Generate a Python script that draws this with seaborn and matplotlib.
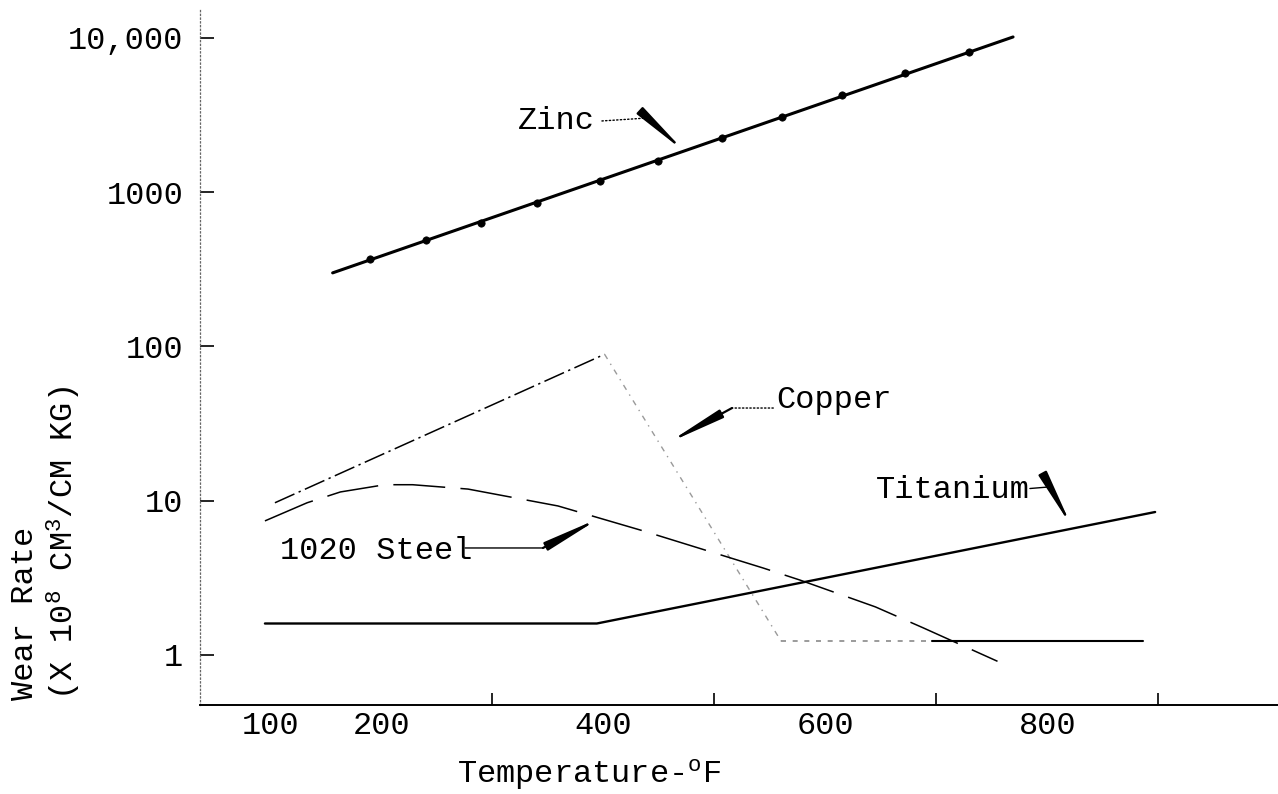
import numpy as np
import pandas as pd
import matplotlib
matplotlib.use("Agg")
import matplotlib.pyplot as plt
import seaborn as sns
from matplotlib.ticker import FixedLocator, NullLocator

# ---------------- data ----------------
zinc_pts_x = [190, 240, 290, 340, 397, 449, 507, 561, 615, 672, 729]
zinc_pts_y = [370, 490, 630, 850, 1180, 1600, 2250, 3080, 4270, 5930, 8110]
zinc_fit_x = [156, 769]
zinc_fit_y = [300, 10150]

copper_x = [104, 401, 560, 696, 886]
copper_y = [9.7, 89, 1.23, 1.23, 1.23]

steel_x = [95, 133, 163, 203, 228, 278, 359, 435, 544, 577, 645, 688, 755]
steel_y = [7.4, 9.7, 11.4, 12.7, 12.7, 11.9, 9.25, 6.4, 3.66, 3.06, 2.05, 1.5, 0.91]

titanium_x = [95, 394, 897]
titanium_y = [1.6, 1.6, 8.45]

x_label_vals = [100, 200, 400, 600, 800]
x_minor_ticks = [300, 500, 600, 700, 800, 900]
y_ticks = [1, 10, 100, 1000, 10000]
y_tick_labels = ["1", "10", "100", "1000", "10,000"]

# ---------------- style ----------------
sns.set_theme(style="white")
plt.rcParams["font.family"] = ["Liberation Mono", "DejaVu Sans Mono"]
plt.rcParams["mathtext.fontset"] = "custom"
plt.rcParams["mathtext.rm"] = "Liberation Mono"
plt.rcParams["mathtext.it"] = "Liberation Mono"
plt.rcParams["mathtext.default"] = "regular"
FS = 23

fig = plt.figure(figsize=(12.78, 7.94), dpi=100, facecolor="white")
ax = fig.add_axes([200 / 1278, (794 - 705) / 794, 1 - 200 / 1278, (705 - 10) / 794])
ax.set_facecolor("white")
ax.set_yscale("log")
ax.set_xlim(36.5, 1007.7)
ax.set_ylim(0.474, 15180)

K = "black"

# Zinc
sns.lineplot(x=zinc_fit_x, y=zinc_fit_y, ax=ax, color=K, lw=2.2,
             estimator=None, sort=False)
sns.scatterplot(x=zinc_pts_x, y=zinc_pts_y, ax=ax, color=K, s=28,
                marker="o", edgecolor=K, linewidth=0.5, zorder=5)

# Copper (rise dash-dot, fall faint dotted, flat dotted then solid)
sns.lineplot(x=copper_x[0:2], y=copper_y[0:2], ax=ax, color=K, lw=1.1,
             linestyle=(0, (14, 3, 1.5, 3)), estimator=None, sort=False)
sns.lineplot(x=copper_x[1:3], y=copper_y[1:3], ax=ax, color="#9a9a9a", lw=1.0,
             linestyle=(0, (4, 4, 1, 4)), estimator=None, sort=False)
sns.lineplot(x=copper_x[2:4], y=copper_y[2:4], ax=ax, color="#8a8a8a", lw=1.2,
             linestyle=(0, (3, 4)), estimator=None, sort=False)
sns.lineplot(x=copper_x[3:5], y=copper_y[3:5], ax=ax, color=K, lw=1.5,
             estimator=None, sort=False)

# 1020 Steel (long dashes)
sns.lineplot(x=steel_x, y=steel_y, ax=ax, color=K, lw=1.1,
             linestyle=(0, (34, 10)), estimator=None, sort=False)

# Titanium
sns.lineplot(x=titanium_x, y=titanium_y, ax=ax, color=K, lw=1.7,
             estimator=None, sort=False)

# ---------------- axes ----------------
for s in ["top", "right"]:
    ax.spines[s].set_visible(False)
ax.spines["bottom"].set_color(K)
ax.spines["bottom"].set_linewidth(1.4)
ax.spines["left"].set_color("#666666")
ax.spines["left"].set_linewidth(0.9)
ax.spines["left"].set_linestyle((0, (1, 2)))

ax.yaxis.set_major_locator(FixedLocator(y_ticks))
ax.yaxis.set_minor_locator(NullLocator())
ax.set_yticklabels(y_tick_labels)
ax.tick_params(axis="y", which="major", direction="in", length=10, width=1.2,
               color=K, pad=12, labelsize=FS, labelcolor=K, left=True)

ax.xaxis.set_major_locator(FixedLocator(x_label_vals))
ax.set_xticklabels([str(v) for v in x_label_vals])
ax.xaxis.set_minor_locator(FixedLocator(x_minor_ticks))
ax.tick_params(axis="x", which="major", length=0, pad=4, labelsize=FS,
               labelcolor=K, bottom=True)
ax.tick_params(axis="x", which="minor", direction="in", length=8.5, width=1.2,
               color=K, bottom=True)
ax.set_xlabel("")
ax.set_ylabel("")
ax.grid(False)

fig.text(457 / 1278, (794 - 783) / 794, "Temperature-$^{o}$F", fontsize=FS,
         ha="left", va="baseline", color=K)
fig.text(25 / 1278, (794 - 700) / 794, "Wear Rate", fontsize=FS, rotation=90,
         ha="center", va="bottom", color=K)
fig.text(64 / 1278, (794 - 700) / 794, "(X 10$^{8}$ CM$^{3}$/CM KG)", fontsize=FS,
         rotation=90, ha="center", va="bottom", color=K)

# ---------------- annotations ----------------
arrow_kw = dict(arrowstyle="-|>,head_length=2.8,head_width=0.22", lw=1.6,
                color=K, shrinkA=0, shrinkB=0)

def label(text, tpos, ha, start, elbow, tip, leader_ls):
    ax.text(tpos[0], tpos[1], text, fontsize=FS, ha=ha, va="center", color=K)
    ax.annotate("", xy=elbow, xytext=start,
                arrowprops=dict(arrowstyle="-", lw=1.0, ls=leader_ls, color=K,
                                shrinkA=0, shrinkB=0))
    ax.annotate("", xy=tip, xytext=elbow, arrowprops=arrow_kw)

label("Zinc", (392, 2897), "right", (398.6, 2897), (440, 3030), (473.4, 1824), ":")
label("Copper", (556, 45), "left", (553, 39.9), (515.8, 39.9), (458, 23.7), ":")
label("1020 Steel", (108.6, 4.72), "left", (275.3, 4.94), (345.5, 4.94), (396.8, 7.73), "-")
label("Titanium", (784, 11.7), "right", (784.2, 12.0), (802.3, 12.3), (822, 6.76), "-")

fig.savefig("out.png", dpi=100, facecolor="white")
